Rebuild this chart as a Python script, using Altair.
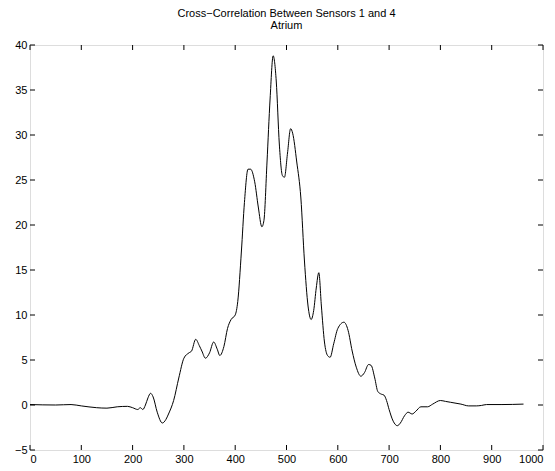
import altair as alt
import pandas as pd

lag = [0, 50, 80, 100, 130, 150, 170, 190, 200, 210, 215, 220, 225, 230, 235, 240, 248,
       258, 265, 270, 280, 290, 300, 310, 315, 323, 330, 335, 342, 350, 358, 365, 370,
       378, 385, 392, 400, 405, 412, 418, 425, 430, 438, 445, 452, 456, 462, 468, 474,
       480, 486, 492, 496, 502, 508, 512, 520, 528, 535, 542, 548, 553, 558, 563, 568,
       574, 580, 585, 592, 600, 612, 620, 628, 636, 645, 652, 660, 665, 672, 678, 685,
       690, 695, 700, 708, 716, 722, 730, 737, 745, 752, 762, 775, 785, 800, 810, 820,
       840, 855, 870, 880, 890, 920, 962]
corr = [0.05, 0.0, 0.05, -0.1, -0.3, -0.35, -0.2, -0.15, -0.3, -0.5, -0.3, -0.5, 0.0, 0.8, 1.3, 0.9, -0.8,
        -2.0, -1.6, -1.0, 0.5, 3.0, 5.2, 5.8, 6.0, 7.3, 6.6, 6.0, 5.2, 5.8, 7.0, 6.2, 5.5,
        6.5, 8.5, 9.5, 10.0, 11.5, 17.0, 22.5, 26.2, 26.2, 24.8, 22.0, 19.8, 20.5, 27.0, 34.0, 38.8,
        36.0, 29.0, 25.5, 25.3, 28.0, 30.7, 30.2, 27.0, 23.0, 16.0, 11.0, 9.5, 10.5, 13.0, 14.7, 11.0,
        7.0, 5.5, 5.3, 6.8, 8.5, 9.2, 8.3, 6.0, 4.2, 3.2, 3.6, 4.5, 4.4, 3.0, 1.5, 1.2,
        1.1, 0.5, -0.5, -1.8, -2.3, -2.0, -1.2, -0.8, -1.0, -0.7, -0.2, -0.2, 0.1, 0.5, 0.4, 0.3,
        0.1, -0.1, -0.1, -0.05, 0.05, 0.05, 0.1]

x_ticks = list(range(0, 1001, 100))
y_ticks = list(range(-5, 41, 5))

W, H, TK = 513, 405, 5

df = pd.DataFrame({"lag": lag, "corr": corr})
xdf = pd.DataFrame({"lag": x_ticks})
ydf = pd.DataFrame({"corr": y_ticks})

FONT = "Liberation Sans"
xs = alt.Scale(domain=[0, 1000], nice=False, zero=False)
ys = alt.Scale(domain=[-5, 40], nice=False, zero=False)

xaxis = alt.Axis(orient="bottom", values=x_ticks, ticks=False, grid=False, domain=False,
                 format="d", labelColor="black",
                 labelFont=FONT, labelFontSize=11, labelPadding=3, title=None)
yaxis = alt.Axis(orient="left", values=y_ticks, ticks=False, grid=False, domain=False,
                 format="d", labelColor="black",
                 labelFont=FONT, labelFontSize=11, labelPadding=3, title=None)

X = alt.X("lag:Q", scale=xs, axis=xaxis, title=None)
Y = alt.Y("corr:Q", scale=ys, axis=yaxis, title=None)

main = alt.Chart(df).mark_line(color="black", strokeWidth=1, interpolate="monotone").encode(x=X, y=Y)

xb = alt.Chart(xdf).mark_rule(color="black", strokeWidth=1).encode(
    x=X, y=alt.value(H), y2=alt.value(H - TK))
xt = alt.Chart(xdf).mark_rule(color="black", strokeWidth=1).encode(
    x=X, y=alt.value(0), y2=alt.value(TK))
yl = alt.Chart(ydf).mark_rule(color="black", strokeWidth=1).encode(
    y=Y, x=alt.value(0), x2=alt.value(TK))
yr = alt.Chart(ydf).mark_rule(color="black", strokeWidth=1).encode(
    y=Y, x=alt.value(W), x2=alt.value(W - TK))

chart = alt.layer(main, xb, xt, yl, yr).properties(
    width=W, height=H,
    autosize=alt.AutoSizeParams(type="none"),
    padding={"left": 22, "top": 37, "right": 4, "bottom": 13},
    title=alt.TitleParams(["Cross\u2212Correlation Between Sensors 1 and 4", "Atrium"],
                          font=FONT, fontSize=11, fontWeight="normal", color="black",
                          anchor="middle", offset=8, lineHeight=12),
).configure_view(stroke="black", strokeWidth=1).configure(background="white")

chart.save("out.html", embed_options={"renderer": "svg", "actions": False})
